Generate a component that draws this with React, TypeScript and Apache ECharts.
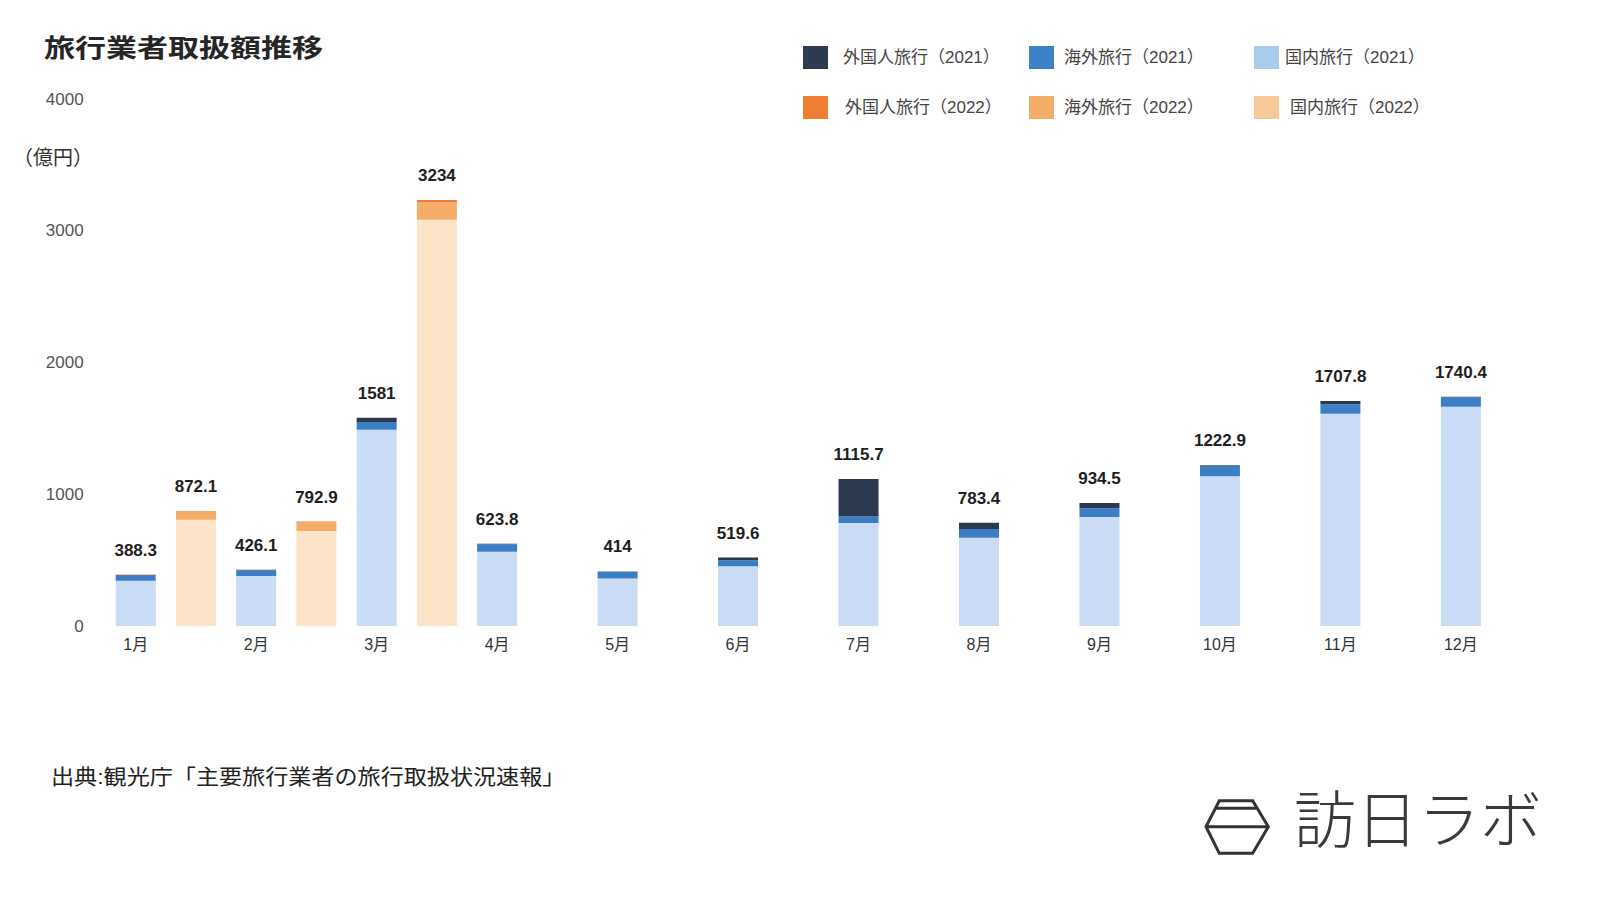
import React, { useEffect, useRef } from "react";
import * as echarts from "echarts";

const categories = ["1月", "", "2月", "", "3月", "", "4月", "", "5月", "", "6月", "", "7月", "", "8月", "", "9月", "", "10月", "", "11月", "", "12月"];

const domestic2021 = [344, null, 380, null, 1490, null, 563, null, 360, null, 453.6, null, 781, null, 669, null, 828, null, 1137, null, 1611.8, null, 1664.4];
const overseas2021 = [40, null, 42, null, 58, null, 58, null, 51, null, 46, null, 51, null, 68, null, 66, null, 81, null, 71, null, 71];
const inbound2021 = [4.3, null, 4.1, null, 33, null, 2.8, null, 3, null, 20, null, 283.7, null, 46.4, null, 40.5, null, 4.9, null, 25, null, 5];

const domestic2022 = [null, 806, null, 722, null, 3083, null, null, null, null, null, null, null, null, null, null, null, null, null, null, null, null, null];
const overseas2022 = [null, 63, null, 68, null, 131, null, null, null, null, null, null, null, null, null, null, null, null, null, null, null, null, null];
const inbound2022 = [null, 3.1, null, 2.9, null, 20, null, null, null, null, null, null, null, null, null, null, null, null, null, null, null, null, null];

const totals = [388.3, 872.1, 426.1, 792.9, 1581, 3234, 623.8, null, 414, null, 519.6, null, 1115.7, null, 783.4, null, 934.5, null, 1222.9, null, 1707.8, null, 1740.4];

const yTicks = [0, 1000, 2000, 3000, 4000];

const FONT = '"Liberation Sans", "Noto Sans CJK JP", sans-serif';

const seriesDefs = [
  { name: "国内旅行（2021）", data: domestic2021, color: "#c9dbf5", legendColor: "#a9cbee" },
  { name: "海外旅行（2021）", data: overseas2021, color: "#3b7ec6", legendColor: "#3b82c8" },
  { name: "外国人旅行（2021）", data: inbound2021, color: "#2c3a4f", legendColor: "#2e3b4e" },
  { name: "国内旅行（2022）", data: domestic2022, color: "#fbe3c8", legendColor: "#f8c89a" },
  { name: "海外旅行（2022）", data: overseas2022, color: "#f3ad67", legendColor: "#f3ad67" },
  { name: "外国人旅行（2022）", data: inbound2022, color: "#ee7f32", legendColor: "#ee7f32" },
];

const legendLayout = [
  { name: "外国人旅行（2021）", left: 803, top: 46, pad: 10 },
  { name: "海外旅行（2021）", left: 1029, top: 46, pad: 5 },
  { name: "国内旅行（2021）", left: 1254, top: 46, pad: 1 },
  { name: "外国人旅行（2022）", left: 803, top: 96, pad: 12 },
  { name: "海外旅行（2022）", left: 1029, top: 96, pad: 5 },
  { name: "国内旅行（2022）", left: 1254, top: 96, pad: 6 },
];

export default function App() {
  const ref = useRef<HTMLDivElement>(null);

  useEffect(() => {
    if (!ref.current) return;
    const chart = echarts.init(ref.current, null, { renderer: "svg" });

    const series: any[] = seriesDefs.map((s) => ({
      name: s.name,
      type: "bar",
      stack: "total",
      barWidth: 40,
      data: s.data,
      itemStyle: { color: s.color },
      emphasis: { disabled: true },
    }));
    series.push({
      name: "合計",
      type: "bar",
      stack: "total",
      barWidth: 40,
      data: totals.map((t) => (t == null ? null : 0)),
      itemStyle: { color: "transparent" },
      label: {
        show: true,
        position: "top",
        distance: 16,
        formatter: (p: any) => (totals[p.dataIndex] == null ? "" : String(totals[p.dataIndex])),
        fontFamily: FONT,
        fontSize: 17,
        fontWeight: "bold",
        color: "#1e1e1e",
      },
      emphasis: { disabled: true },
    });

    const legends = legendLayout.map((l) => {
      const def = seriesDefs.find((s) => s.name === l.name)!;
      return {
        left: l.left,
        top: l.top,
        padding: 0,
        itemWidth: 25,
        itemHeight: 23,
        icon: "rect",
        selectedMode: false,
        data: [{ name: l.name, itemStyle: { color: def.legendColor } }],
        textStyle: {
          fontFamily: FONT,
          fontSize: 17,
          color: "#444",
          padding: [0, 0, 0, l.pad],
        },
      };
    });

    chart.setOption({
      animation: false,
      backgroundColor: "#ffffff",
      grid: { left: 105.6, right: 109, top: 99, bottom: 274 },
      legend: legends,
      xAxis: {
        type: "category",
        data: categories,
        axisLine: { show: false },
        axisTick: { show: false },
        axisLabel: {
          interval: 0,
          margin: 10,
          fontFamily: FONT,
          fontSize: 16,
          color: "#333",
        },
      },
      yAxis: {
        type: "value",
        min: yTicks[0],
        max: yTicks[yTicks.length - 1],
        interval: 1000,
        splitLine: { show: false },
        axisLine: { show: false },
        axisTick: { show: false },
        axisLabel: {
          margin: 22,
          fontFamily: FONT,
          fontSize: 17,
          color: "#555",
          formatter: (v: number) => String(v),
        },
      },
      series,
      graphic: [
        {
          type: "text",
          left: 44,
          top: 36,
          scaleX: 1.24,
          style: {
            text: "旅行業者取扱額推移",
            fontFamily: FONT,
            fontSize: 25,
            fontWeight: "bold",
            fill: "#262626",
          },
        },
        {
          type: "text",
          left: 13,
          top: 148,
          style: {
            text: "（億円）",
            fontFamily: FONT,
            fontSize: 20,
            fill: "#333",
          },
        },
        {
          type: "text",
          left: 51,
          top: 766,
          scaleX: 1.1,
          style: {
            text: "出典:観光庁「主要旅行業者の旅行取扱状況速報」",
            fontFamily: FONT,
            fontSize: 21,
            fill: "#222",
          },
        },
        {
          type: "text",
          left: 1294,
          top: 790,
          style: {
            text: "訪日ラボ",
            fontFamily: FONT,
            fontSize: 62,
            fontWeight: 300,
            fill: "#3a3a3a",
          },
        },
        {
          type: "polygon",
          shape: {
            points: [
              [1219.3, 800.7],
              [1252.7, 800.7],
              [1268.3, 826.7],
              [1252.7, 853.3],
              [1219.3, 853.3],
              [1206, 826.7],
            ],
          },
          style: { fill: "none", stroke: "#333", lineWidth: 3 },
        },
        {
          type: "line",
          shape: { x1: 1216, y1: 808.3, x2: 1256, y2: 808.3 },
          style: { stroke: "#333", lineWidth: 3 },
        },
        {
          type: "line",
          shape: { x1: 1206, y1: 826.7, x2: 1268.3, y2: 826.7 },
          style: { stroke: "#333", lineWidth: 3 },
        },
      ],
    });

    return () => chart.dispose();
  }, []);

  return (
    <div
      ref={ref}
      style={{ position: "fixed", left: 0, top: 0, width: 1600, height: 900, background: "#fff" }}
    />
  );
}
